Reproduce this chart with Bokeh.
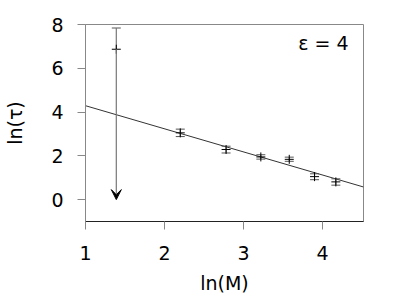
from bokeh.plotting import figure
from bokeh.models import FixedTicker, Range1d, Arrow, VeeHead, Label
from bokeh.embed import file_html
from bokeh.resources import INLINE

# data
ln_M = [1.39, 2.20, 2.78, 3.22, 3.58, 3.90, 4.17]
ln_tau = [6.87, 3.05, 2.29, 1.95, 1.84, 1.05, 0.81]
upper = [7.84, 3.22, 2.44, 2.05, 1.94, 1.18, 0.95]
lower = [None, 2.88, 2.13, 1.85, 1.75, 0.91, 0.66]
arrow_to = 0.0  # first point lower bound shown as arrow
fit_intercept = 4.29   # value at ln(M)=1
fit_slope = -1.055
x_ticks = [1, 2, 3, 4]
y_ticks = [0, 2, 4, 6, 8]
annotation = "ε = 4"

FONT = "DejaVu Sans"
FS = "19px"

p = figure(width=390, height=291, output_backend="svg", toolbar_location=None,
           x_range=Range1d(1, 4.52), y_range=Range1d(-1, 8),
           frame_width=278, frame_height=197,
           min_border_left=85, min_border_right=27, min_border_top=24, min_border_bottom=70)
p.grid.visible = False
p.outline_line_color = "#888888"
p.outline_line_width = 1
p.background_fill_color = "white"
p.border_fill_color = "white"

for ax in (p.xaxis[0], p.yaxis[0]):
    ax.major_label_text_font = FONT
    ax.major_label_text_font_size = FS
    ax.major_label_text_color = "black"
    ax.axis_label_text_font = FONT
    ax.axis_label_text_font_size = FS
    ax.axis_label_text_font_style = "normal"
    ax.axis_label_text_color = "black"
    ax.minor_tick_line_color = None
    ax.major_tick_in = 0
    ax.major_tick_out = 8
    ax.major_tick_line_color = "#888888"

p.xaxis.ticker = FixedTicker(ticks=x_ticks)
p.yaxis.ticker = FixedTicker(ticks=y_ticks)
p.xaxis.axis_label = "ln(M)"
p.yaxis.axis_label = "ln(τ)"
p.xaxis.axis_line_color = "#222222"
p.yaxis.axis_line_color = "#888888"
p.xaxis.major_label_standoff = 16
p.yaxis.major_label_standoff = 14
p.xaxis.axis_label_standoff = 9
p.yaxis.axis_label_standoff = 22

# fit line
x0, x1 = 1.0, 4.52
p.line([x0, x1], [fit_intercept, fit_intercept + fit_slope * (x1 - x0)],
       line_color="#333333", line_width=1)

# error bars
xs_b, lo_b, hi_b = [], [], []
for x, lo, hi in zip(ln_M, lower, upper):
    if lo is None:
        continue
    xs_b.append(x); lo_b.append(lo); hi_b.append(hi)
p.segment(x0=xs_b, y0=lo_b, x1=xs_b, y1=hi_b, line_color="#555555", line_width=1)
p.dash(x=xs_b, y=lo_b, size=9, line_color="#555555", line_width=1)
p.dash(x=ln_M, y=upper, size=9, line_color="#555555", line_width=1)

# first point: vertical line to upper cap and arrow downward
p.segment(x0=[ln_M[0]], y0=[ln_tau[0]], x1=[ln_M[0]], y1=[upper[0]],
          line_color="#777777", line_width=1.2)
p.add_layout(Arrow(x_start=ln_M[0], y_start=ln_tau[0], x_end=ln_M[0], y_end=arrow_to,
                   line_color="#777777", line_width=1.2,
                   end=VeeHead(size=10, fill_color="black", line_color="black", line_width=1)))

# points
p.scatter(x=ln_M, y=ln_tau, marker="cross", size=9, line_color="black", line_width=1)

p.add_layout(Label(x=4.33, y=7.14, text=annotation, text_align="right",
                   text_baseline="alphabetic", text_font=FONT, text_font_size=FS,
                   text_color="black"))

open("out.html", "w").write(file_html(p, INLINE))
